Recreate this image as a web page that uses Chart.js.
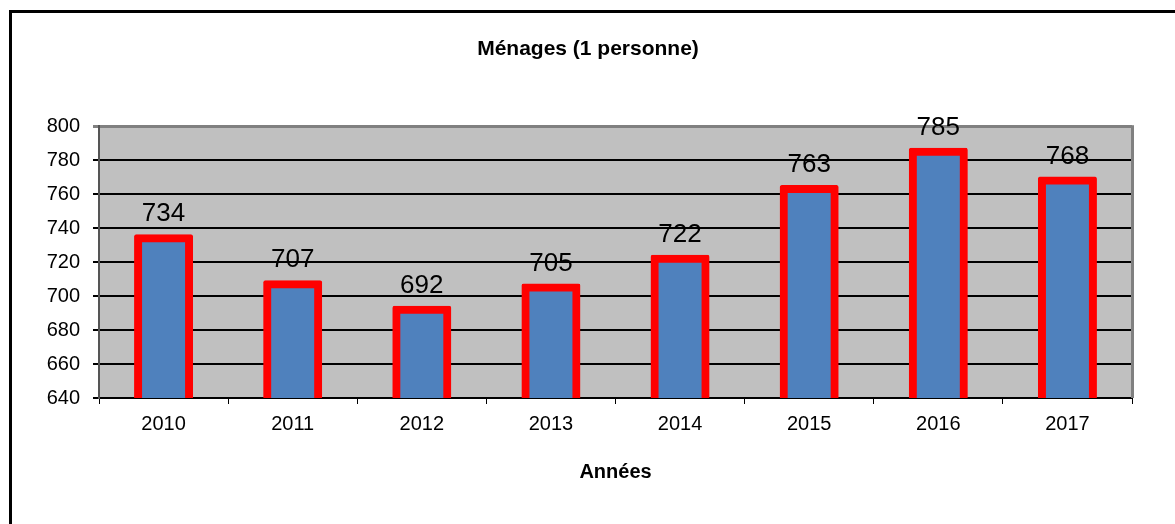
<!DOCTYPE html>
<html lang="fr">
<head>
    <meta charset="UTF-8">
    <title>Ménages (1 personne)</title>
    <script src="https://cdn.jsdelivr.net/npm/chart.js"></script>
    <style>
        body { margin: 0; padding: 0; background: #fff; }
        #wrap { width: 1175px; height: 524px; }
    </style>
</head>
<body>
    <div id="wrap"><canvas id="chart" width="1175" height="524"></canvas></div>

    <script>
        // Data
        const years = ['2010', '2011', '2012', '2013', '2014', '2015', '2016', '2017'];
        const households = [734, 707, 692, 705, 722, 763, 785, 768];
        const yTicks = [640, 660, 680, 700, 720, 740, 760, 780, 800];

        const FONT = '"Liberation Sans", Arial, sans-serif';

        // white page, black frame, grey plot area
        const backdrop = {
            id: 'backdrop',
            beforeDraw(chart) {
                const { ctx, chartArea: a } = chart;
                ctx.save();
                ctx.fillStyle = '#fff';
                ctx.fillRect(0, 0, chart.width, chart.height);
                ctx.fillStyle = '#000';
                ctx.fillRect(9, 10, 3, chart.height - 10);
                ctx.fillRect(9, 10, chart.width - 9, 3);
                ctx.fillStyle = '#c0c0c0';
                ctx.fillRect(a.left, a.top, a.right - a.left, a.bottom - a.top);
                ctx.restore();
            },
            afterDatasetsDraw(chart) {
                const { ctx, chartArea: a } = chart;
                ctx.save();
                ctx.fillStyle = '#808080';
                ctx.fillRect(a.right - 1, a.top - 1, 3, a.bottom - a.top + 1);
                // value labels above bars
                const meta = chart.getDatasetMeta(0);
                ctx.fillStyle = '#000';
                ctx.font = '26px ' + FONT;
                ctx.textAlign = 'center';
                ctx.textBaseline = 'middle';
                meta.data.forEach((bar, i) => {
                    ctx.fillText(String(households[i]), bar.x, bar.y - 24);
                });
                ctx.restore();
            }
        };

        new Chart(document.getElementById('chart'), {
            type: 'bar',
            data: {
                labels: years,
                datasets: [{
                    data: households,
                    backgroundColor: '#4f81bd',
                    borderColor: '#ff0000',
                    borderWidth: 8,
                    borderSkipped: false,
                    borderRadius: 2,
                    inflateAmount: 4,
                    categoryPercentage: 1,
                    barPercentage: 0.395
                }]
            },
            options: {
                responsive: false,
                animation: false,
                layout: { padding: { left: 44, right: 43, top: 0, bottom: 0 } },
                plugins: {
                    legend: { display: false },
                    tooltip: { enabled: false },
                    title: {
                        display: true,
                        text: 'Ménages (1 personne)',
                        color: '#000',
                        font: { family: FONT, size: 21, weight: 'bold' },
                        padding: { top: 37, bottom: 64 }
                    }
                },
                scales: {
                    x: {
                        afterFit(scale) { scale.height = 126; },
                        grid: {
                            offset: true,
                            drawOnChartArea: false,
                            color: '#000',
                            lineWidth: 1,
                            tickLength: 6
                        },
                        border: { color: '#000', width: 2 },
                        ticks: {
                            color: '#000',
                            padding: 8,
                            font: { family: FONT, size: 20 }
                        },
                        title: {
                            display: true,
                            text: 'Années',
                            color: '#000',
                            font: { family: FONT, size: 20, weight: 'bold' },
                            padding: { top: 0, bottom: 40 }
                        }
                    },
                    y: {
                        min: yTicks[0],
                        max: yTicks[yTicks.length - 1],
                        afterFit(scale) { scale.width = 55; },
                        afterBuildTicks(scale) { scale.ticks = yTicks.map(v => ({ value: v })); },
                        grid: {
                            color: ctx => ctx.tick && ctx.tick.value === 800 ? '#808080' : '#000',
                            lineWidth: ctx => ctx.tick && ctx.tick.value === 800 ? 3 : 2,
                            tickLength: 6
                        },
                        border: { color: '#555', width: 2 },
                        ticks: {
                            color: '#000',
                            padding: 13,
                            font: { family: FONT, size: 20 }
                        }
                    }
                }
            },
            plugins: [backdrop]
        });
    </script>
</body>
</html>
